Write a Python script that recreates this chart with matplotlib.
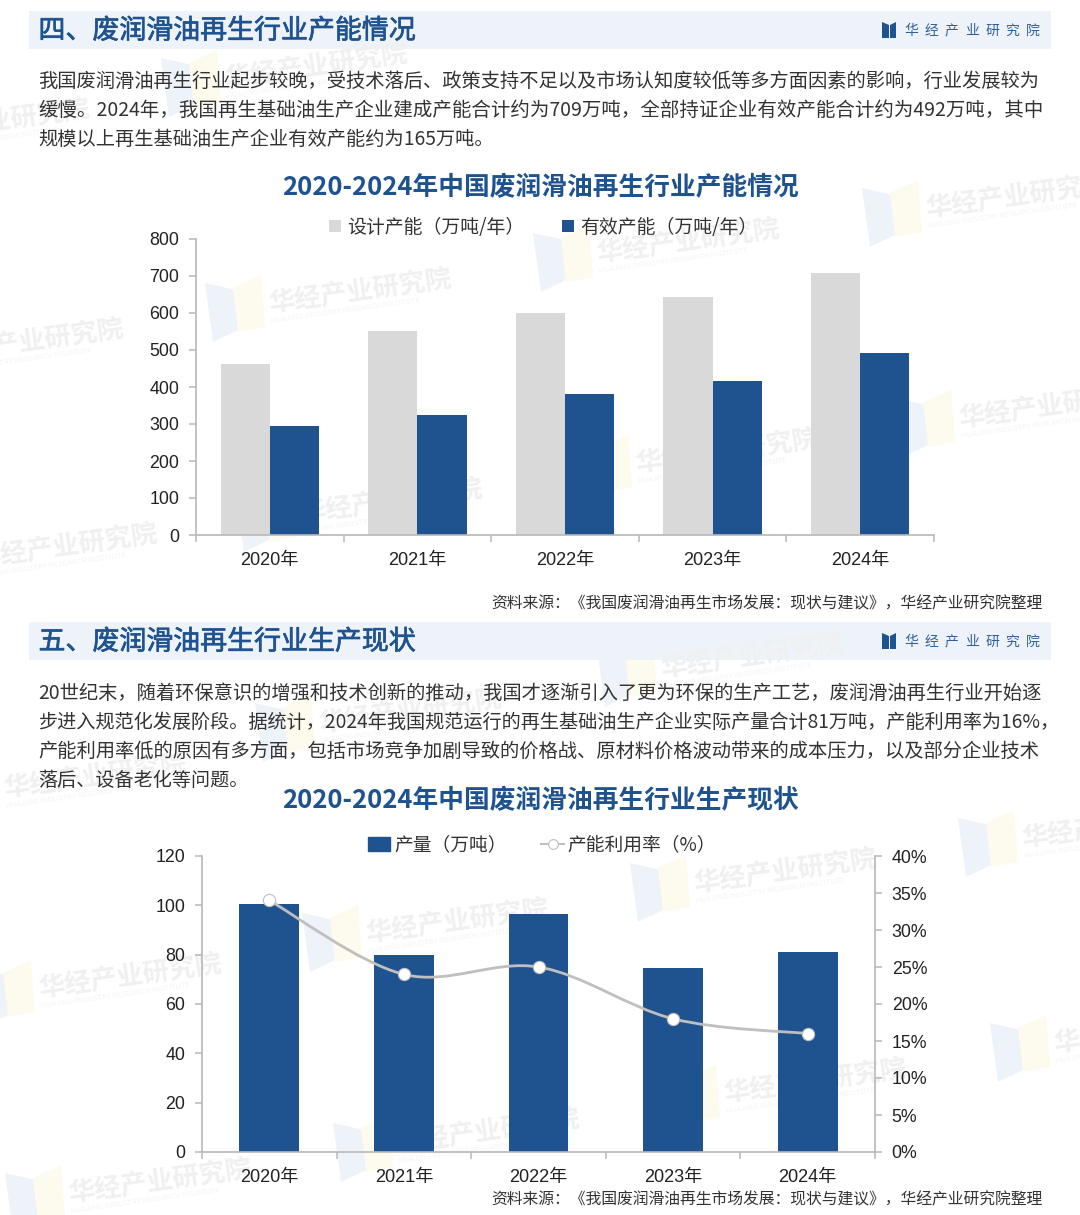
import matplotlib
matplotlib.use("Agg")
import matplotlib.pyplot as plt
import matplotlib.patheffects as pe
from matplotlib.lines import Line2D
from matplotlib.patches import Patch, PathPatch, Polygon, Rectangle
from matplotlib.path import Path

plt.rcParams['font.family'] = ['Noto Sans CJK SC', 'DejaVu Sans']

W, H = 1080, 1215
BLUE = '#1f5390'
GRAY = '#d9d9d9'
LINE_GRAY = '#bfbfbf'
AXIS_GRAY = '#b8b8b8'
TEXT = '#333333'
BAND = '#eef3fa'
TICK_FONT = 'Liberation Sans'

years = ['2020年', '2021年', '2022年', '2023年', '2024年']
design_capacity = [463, 552, 600, 644, 708]
effective_capacity = [294, 325, 380, 415, 492]
output = [100.7, 80, 96.6, 74.7, 81]
utilization = [34, 24, 25, 18, 16]

capacity_ticks = [0, 100, 200, 300, 400, 500, 600, 700, 800]
output_ticks = [0, 20, 40, 60, 80, 100, 120]
rate_ticks = [0, 5, 10, 15, 20, 25, 30, 35, 40]

section_1 = '四、废润滑油再生行业产能情况'
section_2 = '五、废润滑油再生行业生产现状'
title_1 = '2020-2024年中国废润滑油再生行业产能情况'
title_2 = '2020-2024年中国废润滑油再生行业生产现状'
source = '资料来源：《我国废润滑油再生市场发展：现状与建议》，华经产业研究院整理'
brand = '华经产业研究院'

para_1 = [
    '我国废润滑油再生行业起步较晚，受技术落后、政策支持不足以及市场认知度较低等多方面因素的影响，行业发展较为',
    '缓慢。2024年，我国再生基础油生产企业建成产能合计约为709万吨，全部持证企业有效产能合计约为492万吨，其中',
    '规模以上再生基础油生产企业有效产能约为165万吨。',
]
para_2 = [
    '20世纪末，随着环保意识的增强和技术创新的推动，我国才逐渐引入了更为环保的生产工艺，废润滑油再生行业开始逐',
    '步进入规范化发展阶段。据统计，2024年我国规范运行的再生基础油生产企业实际产量合计81万吨，产能利用率为16%，',
    '产能利用率低的原因有多方面，包括市场竞争加剧导致的价格战、原材料价格波动带来的成本压力，以及部分企业技术',
    '落后、设备老化等问题。',
]
# per line sizes, the original lines are justified so widths differ a little
para_1_sizes = [13.89, 14.0, 13.84]
para_2_sizes = [13.89, 13.8, 13.9, 13.78]

# top left corner of each faint watermark
marks = [(862, 180), (533, 225), (205, 275), (-123, 325), (895, 390), (572, 435),
         (236, 485), (-89, 530), (-157, 105), (161, 50), (597, 640), (630, 855),
         (302, 905), (-25, 960), (958, 810), (990, 1015), (660, 1065), (333, 1115),
         (5, 1165), (-60, 760), (255, 695)]


def px_axes(left, top, right, bottom):
    return fig.add_axes([left / W, 1 - bottom / H, (right - left) / W, (bottom - top) / H],
                        facecolor='none')


def draw_mark(x, y):
    bg.add_patch(Polygon([(x, y + 8), (x + 31, y + 15), (x + 33, y + 55), (x + 8, y + 67)],
                         color='#eef3f9', lw=0))
    bg.add_patch(Polygon([(x + 28, y + 13), (x + 56, y), (x + 60, y + 52), (x + 33, y + 57)],
                         color='#fdfaee', lw=0))
    bg.text(x + 64, y + 30, brand, fontsize=19, weight='bold', color='#f0f0f0', rotation=8,
            rotation_mode='anchor', va='center', ha='left')
    bg.text(x + 66, y + 46, 'HUAJING INDUSTRY RESEARCH INSTITUTE', fontsize=5.5, color='#f4f4f4',
            rotation=8, rotation_mode='anchor', va='center', ha='left')


def draw_band(top, label):
    bg.add_patch(Rectangle((29, top), 1022, 38, color=BAND, lw=0))
    bg.text(38.5, top + 20, label, fontsize=19.4, color=BLUE, va='center',
            path_effects=[pe.withStroke(linewidth=0.5, foreground=BLUE)])
    # small open book logo
    bg.add_patch(Polygon([(882, top + 11), (889, top + 14), (889, top + 27), (882, top + 27)],
                         color=BLUE, lw=0))
    bg.add_patch(Polygon([(896, top + 11), (890, top + 14), (890, top + 27), (896, top + 27)],
                         color=BLUE, lw=0))
    for i, ch in enumerate(brand):
        bg.text(911 + i * 20.3, top + 20, ch, fontsize=10, color='#2f6099', va='center', ha='center')


def style_axis(ax):
    for side in ['top', 'right']:
        ax.spines[side].set_visible(False)
    for side in ['left', 'bottom']:
        ax.spines[side].set_color(AXIS_GRAY)
        ax.spines[side].set_linewidth(1.2)
    ax.tick_params(axis='y', length=5, width=1.1, color=AXIS_GRAY, pad=7)
    ax.tick_params(axis='x', which='minor', length=5, width=1.1, color=AXIS_GRAY)
    ax.tick_params(axis='x', which='major', length=0, pad=12.5)
    ax.set_xticks([i - 0.5 for i in range(len(years) + 1)], minor=True)
    ax.set_xticks(range(len(years)))
    ax.set_xticklabels(years, fontsize=13.1, family=[TICK_FONT, 'Noto Sans CJK SC'], color='#222222')
    ax.set_xlim(-0.5, len(years) - 0.5)


def smooth_path(xs, ys):
    # catmull-rom style curve, same look as the excel smoothed line
    verts = [(xs[0], ys[0])]
    codes = [Path.MOVETO]
    n = len(xs)
    for i in range(n - 1):
        a, b = max(i - 1, 0), min(i + 2, n - 1)
        verts.append((xs[i] + (xs[i + 1] - xs[a]) / 6, ys[i] + (ys[i + 1] - ys[a]) / 6))
        verts.append((xs[i + 1] - (xs[b] - xs[i]) / 6, ys[i + 1] - (ys[b] - ys[i]) / 6))
        verts.append((xs[i + 1], ys[i + 1]))
        codes += [Path.CURVE4, Path.CURVE4, Path.CURVE4]
    return Path(verts, codes)


fig = plt.figure(figsize=(W / 100, H / 100), dpi=100, facecolor='white')

bg = fig.add_axes([0, 0, 1, 1])
bg.set_xlim(0, W)
bg.set_ylim(H, 0)
bg.axis('off')

for mx, my in marks:
    draw_mark(mx, my)
draw_band(11, section_1)
draw_band(622, section_2)

for i, line in enumerate(para_1):
    bg.text(38.5, 81 + i * 29, line, fontsize=para_1_sizes[i], color=TEXT, va='center')
for i, line in enumerate(para_2):
    bg.text(38.5, 693 + i * 29, line, fontsize=para_2_sizes[i], color=TEXT, va='center')

bg.text(540, 188, title_1, fontsize=18.5, weight='bold', color=BLUE, ha='center', va='center')
bg.text(540, 801, title_2, fontsize=18.5, weight='bold', color=BLUE, ha='center', va='center')
bg.text(1042, 604, source, fontsize=11.39, color=TEXT, ha='right', va='center')
bg.text(1042, 1200, source, fontsize=11.39, color=TEXT, ha='right', va='center')

# capacity chart
ax1 = px_axes(196, 239, 934, 535)
xs = range(len(years))
bar_w = 1 / 3
ax1.bar([x - bar_w / 2 for x in xs], design_capacity, bar_w, color=GRAY, label='设计产能（万吨/年）')
ax1.bar([x + bar_w / 2 for x in xs], effective_capacity, bar_w, color=BLUE, label='有效产能（万吨/年）')
ax1.set_ylim(0, 800)
ax1.set_yticks(capacity_ticks)
ax1.set_yticklabels(capacity_ticks, fontsize=12.8, family=TICK_FONT, color='#222222')
style_axis(ax1)
ax1.legend(loc='center', bbox_to_anchor=(543 / W, 1 - 227 / H), bbox_transform=fig.transFigure,
           ncol=2, frameon=False, fontsize=13.6, handlelength=0.64, handleheight=0.64,
           handletextpad=0.32, columnspacing=2.0, labelcolor=TEXT)

# output chart
ax2 = px_axes(202, 856, 875, 1152)
ax2.bar(xs, output, 0.445, color=BLUE)
ax2.set_ylim(0, 120)
ax2.set_yticks(output_ticks)
ax2.set_yticklabels(output_ticks, fontsize=12.8, family=TICK_FONT, color='#222222')
style_axis(ax2)

ax3 = ax2.twinx()
ax3.set_facecolor('none')
ax3.set_ylim(0, 40)
ax3.set_yticks(rate_ticks)
ax3.set_yticklabels([f'{v}%' for v in rate_ticks], fontsize=12.8, family=TICK_FONT, color='#222222')
ax3.tick_params(axis='y', length=5, width=1.1, color=AXIS_GRAY, pad=7)
for side in ['top', 'left', 'bottom']:
    ax3.spines[side].set_visible(False)
ax3.spines['right'].set_color(AXIS_GRAY)
ax3.spines['right'].set_linewidth(1.2)
ax3.add_patch(PathPatch(smooth_path(list(xs), utilization), fc='none', ec=LINE_GRAY, lw=2))
ax3.plot(xs, utilization, ls='none', marker='o', ms=8.8, mfc='white', mec=LINE_GRAY, mew=0.8)

handles = [Patch(color=BLUE, label='产量（万吨）'),
           Line2D([], [], color=LINE_GRAY, lw=1.5, marker='o', ms=7, mfc='white', mec=LINE_GRAY,
                  mew=0.8, label='产能利用率（%）')]
ax3.legend(handles=handles, loc='center', bbox_to_anchor=(542 / W, 1 - 845 / H),
           bbox_transform=fig.transFigure, ncol=2, frameon=False, fontsize=13.5, handlelength=1.2,
           handletextpad=0.2, columnspacing=1.86, labelcolor=TEXT)

fig.savefig('out.png', dpi=100)
